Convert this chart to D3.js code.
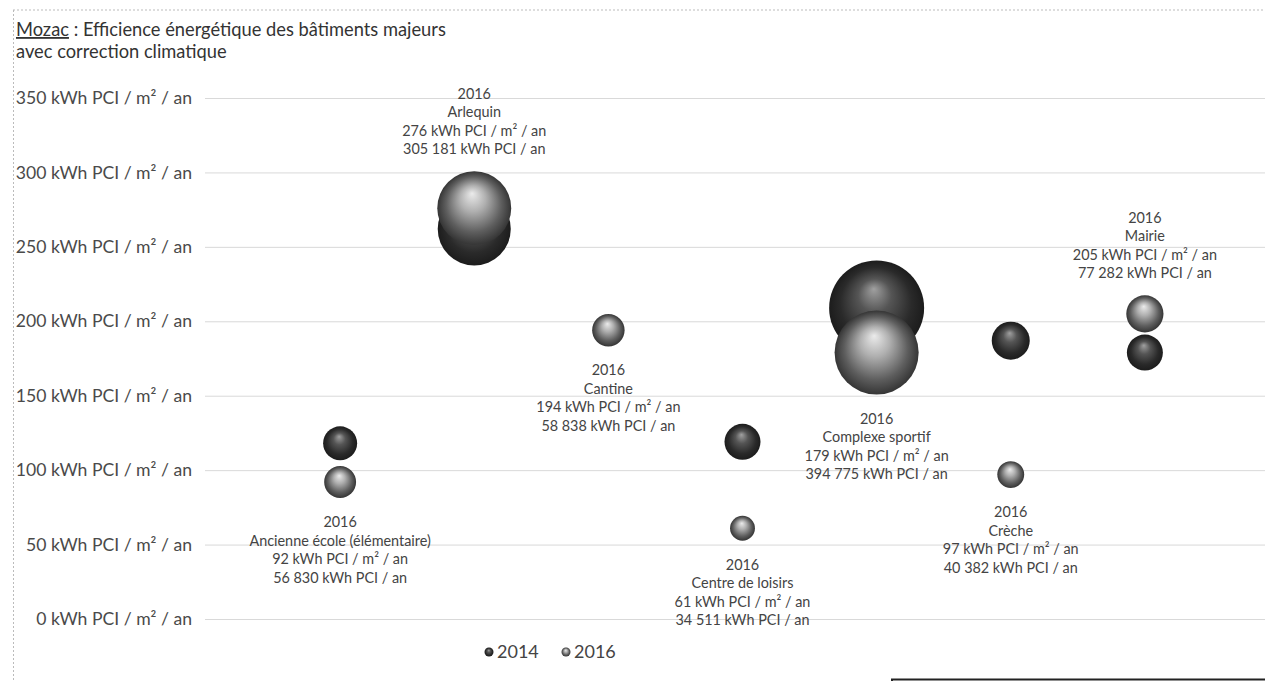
<!DOCTYPE html>
<html>
<head>
<meta charset="utf-8">
<script src="https://cdn.jsdelivr.net/npm/d3@7"></script>
<style>
  html, body { margin: 0; padding: 0; background: #fff; }
  svg { display: block; font-family: Lato, "Open Sans", sans-serif; }
</style>
</head>
<body>
<svg id="chart" width="1265" height="681"></svg>
<script>
// ---- data ----
const categories = ["Ancienne école (élémentaire)", "Arlequin", "Cantine", "Centre de loisirs", "Complexe sportif", "Crèche", "Mairie"];
const xPositions = [1, 2, 3, 4, 5, 6, 7];
const efficiency2014 = [118, 262, null, 119, 209, 187, 179];
const consumption2014 = [64600, 298000, null, 72400, 504000, 80700, 72400];
const efficiency2016 = [92, 276, 194, 61, 179, 97, 205];
const consumption2016 = [56830, 305181, 58838, 34511, 394775, 40382, 77282];
const yTicks = [0, 50, 100, 150, 200, 250, 300, 350];
const seriesNames = ["2014", "2016"];
// label layout (not data)
const labelPlacement = ["below", "above", "below", "below", "below", "below", "above"];

// ---- setup ----
const svg = d3.select("#chart");
const W = 1265, H = 681;
const plotLeft = 205, plotRight = 1265;

const x = d3.scaleLinear().domain([0, 8]).range([206, 1279]);
const y = d3.scaleLinear().domain([0, 350]).range([619, 98]);
const r = d3.scaleSqrt().domain([0, 504000]).range([0, 47.5]);

const fr = d3.formatLocale({decimal: ",", thousands: "\u00a0", grouping: [3], currency: ["", " €"]});
const fmt = fr.format(",d");

// gradients
const defs = svg.append("defs");
function sphere(id, stops) {
  const g = defs.append("radialGradient").attr("id", id)
    .attr("cx", "0.5").attr("cy", "0.5").attr("r", "0.5")
    .attr("fx", "0.47").attr("fy", "0.3");
  stops.forEach(s => g.append("stop").attr("offset", s[0]).attr("stop-color", s[1]));
}
sphere("g2014", [["0%", "#a0a0a0"], ["35%", "#555"], ["75%", "#2a2a2a"], ["100%", "#1c1c1c"]]);
sphere("g2016", [["0%", "#ebebeb"], ["35%", "#b0b0b0"], ["75%", "#5e5e5e"], ["100%", "#353535"]]);

// frame (dotted top and left border)
svg.append("line").attr("x1", 13).attr("x2", W).attr("y1", 10).attr("y2", 10)
  .attr("stroke", "#bbb").attr("stroke-dasharray", "2,2");
svg.append("line").attr("x1", 13.5).attr("x2", 13.5).attr("y1", 10).attr("y2", H)
  .attr("stroke", "#bbb").attr("stroke-dasharray", "2,2");

// title
const title = svg.append("text").attr("x", 16).attr("y", 36).attr("font-size", 18.3).attr("fill", "#333");
title.append("tspan").text("Mozac").attr("text-decoration", "underline");
title.append("tspan").text(" : Efficience énergétique des bâtiments majeurs");
svg.append("text").attr("x", 16).attr("y", 58).attr("font-size", 18.3).attr("fill", "#333")
  .text("avec correction climatique");

// y axis with gridlines
const yAxis = d3.axisLeft(y).tickValues(yTicks)
  .tickSize(-(plotRight - plotLeft)).tickPadding(13)
  .tickFormat(d => d + " kWh PCI / m² / an");
const ga = svg.append("g").attr("transform", `translate(${plotLeft},0)`).call(yAxis);
ga.select(".domain").remove();
ga.selectAll(".tick line").attr("stroke", "#d9d9d9");
ga.selectAll(".tick text").attr("font-size", 17.6).attr("fill", "#4a4a4a")
  .attr("font-family", "Lato, sans-serif");

// bubbles
const rows = categories.map((c, i) => ({
  cat: c, x: xPositions[i], place: labelPlacement[i],
  e14: efficiency2014[i], c14: consumption2014[i],
  e16: efficiency2016[i], c16: consumption2016[i]
}));

const gB = svg.append("g");
gB.selectAll("circle.s2014").data(rows.filter(d => d.e14 != null)).join("circle")
  .attr("class", "s2014")
  .attr("cx", d => x(d.x)).attr("cy", d => y(d.e14)).attr("r", d => r(d.c14))
  .attr("fill", "url(#g2014)");
gB.selectAll("circle.s2016").data(rows).join("circle")
  .attr("class", "s2016")
  .attr("cx", d => x(d.x)).attr("cy", d => y(d.e16)).attr("r", d => r(d.c16))
  .attr("fill", "url(#g2016)");

// labels for 2016
const lh = 18.5;
rows.forEach(d => {
  const lines = ["2016", d.cat, d.e16 + " kWh PCI / m² / an", fmt(d.c16) + " kWh PCI / an"];
  const cy = y(d.e16), rr = r(d.c16);
  const firstY = d.place === "below" ? cy + rr + 24 : cy - rr - 22 - lh * (lines.length - 1);
  const t = svg.append("text").attr("text-anchor", "middle").attr("font-size", 14.4).attr("fill", "#444");
  lines.forEach((ln, k) => {
    t.append("tspan").attr("x", x(d.x)).attr("y", firstY + k * lh).attr("dy", "0.35em").text(ln);
  });
});

// legend
const legX = [489, 566];
seriesNames.forEach((s, i) => {
  svg.append("circle").attr("cx", legX[i]).attr("cy", 652).attr("r", 4.5)
    .attr("fill", `url(#g${s})`);
  svg.append("text").attr("x", legX[i] + 8).attr("y", 652).attr("dy", "0.35em")
    .attr("font-size", 18).attr("fill", "#444").text(s);
});

// bottom-right box corner
svg.append("path").attr("d", `M892,${H} V679.5 H${W}`).attr("fill", "none")
  .attr("stroke", "#222").attr("stroke-width", 2);
</script>
</body>
</html>
